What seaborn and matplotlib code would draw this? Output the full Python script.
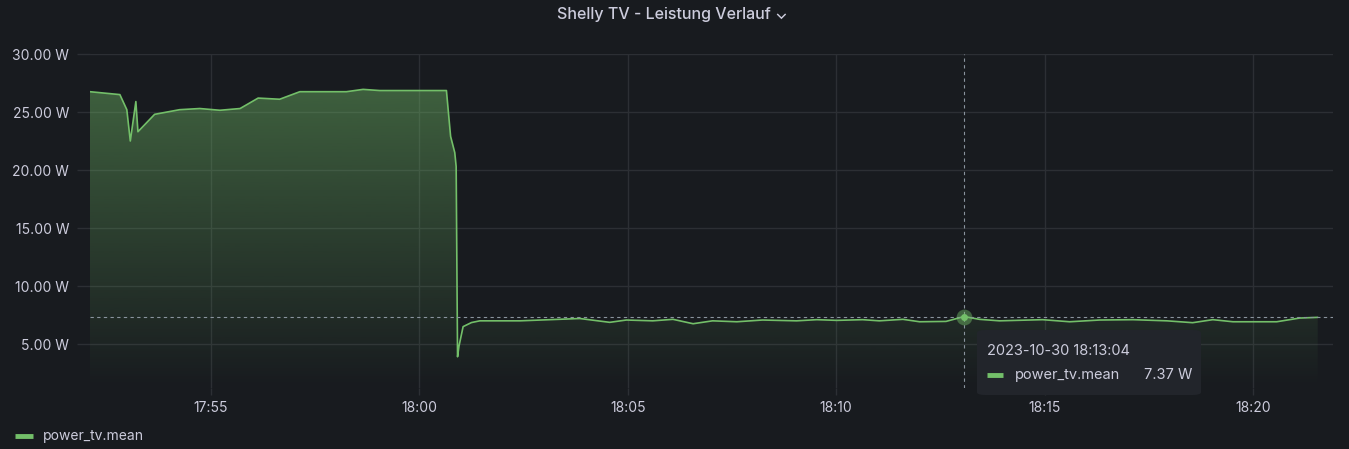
import numpy as np
import pandas as pd
import matplotlib
matplotlib.use('Agg')
import matplotlib.pyplot as plt
import matplotlib.dates as mdates
from matplotlib.patches import FancyBboxPatch
import seaborn as sns

# power readings of the TV plug
times = ['17:52:06', '17:52:49', '17:52:59', '17:53:04', '17:53:12', '17:53:15',
         '17:53:39', '17:54:15', '17:54:44', '17:55:13', '17:55:42', '17:56:08',
         '17:56:39', '17:57:08', '17:58:15', '17:58:39', '17:59:03', '18:00:39',
         '18:00:45', '18:00:51', '18:00:53', '18:00:55', '18:00:57', '18:01:03',
         '18:01:15', '18:01:27', '18:02:25', '18:03:51', '18:04:34', '18:04:58',
         '18:05:36', '18:06:05', '18:06:34', '18:07:02', '18:07:37', '18:08:14',
         '18:09:03', '18:09:32', '18:10:01', '18:10:38', '18:11:02', '18:11:36',
         '18:12:00', '18:12:38', '18:13:04', '18:13:26', '18:13:55', '18:14:57',
         '18:15:36', '18:16:19', '18:17:07', '18:17:56', '18:18:33', '18:19:02',
         '18:19:31', '18:20:34', '18:21:07', '18:21:33']
watts = [26.75, 26.5, 25.2, 22.5, 25.9, 23.3,
         24.8, 25.2, 25.3, 25.15, 25.3, 26.2,
         26.1, 26.75, 26.75, 26.95, 26.85, 26.85,
         22.9, 21.5, 20.3, 3.9, 4.8, 6.5,
         6.85, 7.0, 7.0, 7.2, 6.87, 7.07,
         7.0, 7.13, 6.75, 7.0, 6.92, 7.07,
         7.0, 7.1, 7.04, 7.1, 7.0, 7.13,
         6.92, 6.95, 7.37, 7.13, 7.0, 7.1,
         6.92, 7.07, 7.1, 7.0, 6.84, 7.1,
         6.92, 6.92, 7.24, 7.3]
day = '2023-10-30'
hover_time = '18:13:04'
hover_value = 7.37
series_name = 'power_tv.mean'
panel_title = 'Shelly TV - Leistung Verlauf'

df = pd.DataFrame({'time': pd.to_datetime([day + ' ' + t for t in times]),
                   'power': watts})

bg = '#181b1f'
green = '#73bf69'
txt = '#ccccdc'
grid = '#2c2f34'

sns.set_theme(style='dark')
plt.rcParams['font.family'] = ['Inter', 'DejaVu Sans']

fig = plt.figure(figsize=(13.49, 4.49), dpi=100, facecolor=bg)
ax = fig.add_axes([90 / 1349, 1 - 388 / 449, 1243 / 1349, 334 / 449])
ax.set_facecolor(bg)

sns.lineplot(data=df, x='time', y='power', color=green, linewidth=1.2, ax=ax,
             solid_joinstyle='round', zorder=3)

# gradient fill under the curve
ymin, ymax = 1.21, 30
x0 = pd.Timestamp(day + ' 17:52:06')
x1 = pd.Timestamp(day + ' 18:21:55')
poly = ax.fill_between(df['time'], ymin, df['power'], color='none', lw=0)
grad = np.zeros((256, 1, 4))
grad[:, 0, :3] = matplotlib.colors.to_rgb(green)
grad[:, 0, 3] = np.linspace(0.47, 0.0, 256)
img = ax.imshow(grad, aspect='auto', origin='upper',
                extent=[mdates.date2num(x0), mdates.date2num(x1), ymin, ymax],
                zorder=1)
img.set_clip_path(poly.get_paths()[0], transform=ax.transData)
ax.set_xlim(x0, x1)
ax.set_ylim(ymin, ymax)

# crosshair at hovered point
ht = pd.Timestamp(day + ' ' + hover_time)
ax.axvline(ht, color='#8a949e', lw=0.8, ls=(0, (3, 3)), zorder=3)
ax.axhline(hover_value, color='#8a949e', lw=0.8, ls=(0, (3, 3)), zorder=3)
ax.scatter([ht], [hover_value], s=130, color=green, alpha=0.45, lw=0, zorder=4)
ax.scatter([ht], [hover_value], s=25, color=green, lw=0, zorder=5)

# axes styling
ax.xaxis.set_major_locator(mdates.MinuteLocator(byminute=range(0, 60, 5)))
ax.xaxis.set_major_formatter(mdates.DateFormatter('%H:%M'))
ax.set_yticks([5, 10, 15, 20, 25, 30])
ax.yaxis.set_major_formatter(matplotlib.ticker.FuncFormatter(lambda v, p: f'{v:.2f} W'))
ax.grid(True, color=grid, lw=1)
ax.tick_params(axis='x', colors=grid, labelcolor=txt, labelsize=10, length=5, width=1, pad=4, bottom=True)
ax.tick_params(axis='y', colors=grid, labelcolor=txt, labelsize=10, length=9.5, width=1, pad=5.5, left=True)
ax.set_xlabel('')
ax.set_ylabel('')
for s in ax.spines.values():
    s.set_visible(False)
if ax.get_legend():
    ax.get_legend().remove()

# title
fig.text(672 / 1349, 1 - 14 / 449, panel_title + ' \u2304', ha='center', va='center',
         color=txt, fontsize=11.5, fontweight='medium')

# tooltip
box = FancyBboxPatch((977 / 1349, 1 - 395 / 449), 224 / 1349, 65 / 449,
                     boxstyle='round,pad=0,rounding_size=0.006', transform=fig.transFigure,
                     facecolor='#22252b', edgecolor='none', zorder=10)
fig.patches.append(box)
fig.text(987 / 1349, 1 - 351 / 449, day + ' ' + hover_time, ha='left', va='center',
         color=txt, fontsize=10.5, zorder=11)
fig.add_artist(plt.Line2D([987 / 1349, 1003 / 1349], [1 - 375 / 449] * 2,
                          transform=fig.transFigure, color=green, lw=3.5,
                          solid_capstyle='butt', zorder=11))
fig.text(1015 / 1349, 1 - 375 / 449, series_name, ha='left', va='center',
         color=txt, fontsize=10.5, zorder=11)
fig.text(1192 / 1349, 1 - 375 / 449, f'{hover_value:.2f} W', ha='right', va='center',
         color=txt, fontsize=10.5, zorder=11)

# legend at the bottom
fig.add_artist(plt.Line2D([15 / 1349, 33 / 1349], [1 - 436 / 449] * 2,
                          transform=fig.transFigure, color=green, lw=3.5,
                          solid_capstyle='butt'))
fig.text(43 / 1349, 1 - 436 / 449, series_name, ha='left', va='center',
         color=txt, fontsize=10)

fig.savefig('out.png', dpi=100, facecolor=bg)
